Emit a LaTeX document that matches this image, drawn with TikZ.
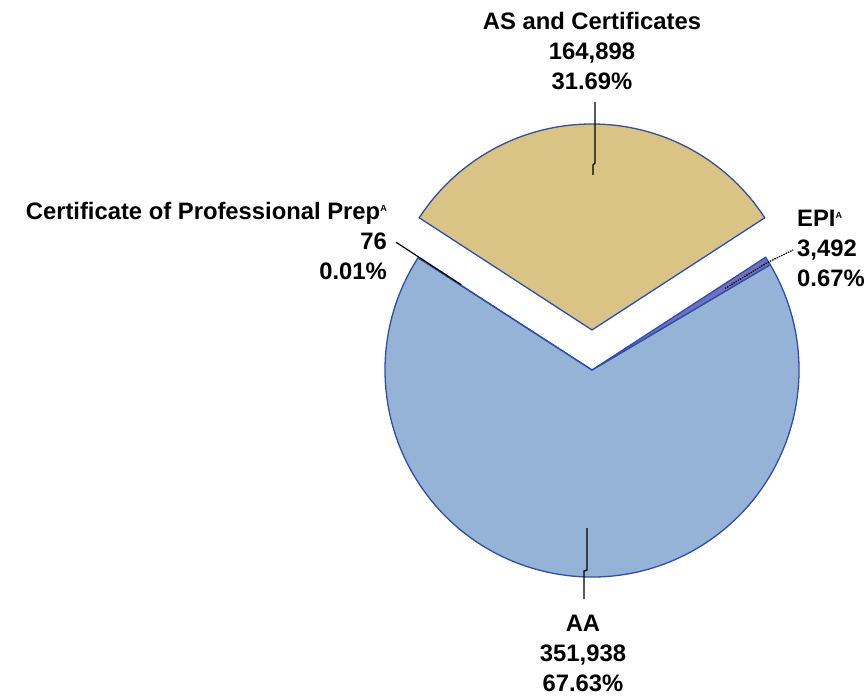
\documentclass[tikz,border=0pt]{standalone}
\usepackage{fontspec}
\setmainfont{Liberation Sans}
\definecolor{aablue}{RGB}{149,179,215}
\definecolor{astan}{RGB}{217,196,134}
\definecolor{rimblue}{RGB}{46,78,168}
\definecolor{epiviolet}{RGB}{112,112,192}
\newcommand{\supA}{{\fontsize{9}{9}\selectfont\raisebox{8pt}{A}}}
\begin{document}
\begin{tikzpicture}[x=1pt,y=1pt,
    wedge/.style={draw=rimblue,line width=1.3pt,line join=round},
    leader/.style={black,line width=1.4pt}]
  \useasboundingbox (-592,-328) rectangle (274,370);
  % main pie, centre at (0,0)
  \filldraw[wedge,fill=aablue] (0,0) -- (30.59:207) arc[start angle=30.59,end angle=-212.88,radius=207] -- cycle;
  \filldraw[wedge,fill=epiviolet] (0,0) -- (33:207) arc[start angle=33,end angle=30.59,radius=207] -- cycle;
  \filldraw[wedge,fill=aablue] (0,0) -- (147.16:207) arc[start angle=147.16,end angle=147.12,radius=207] -- cycle;
  % exploded slice
  \filldraw[wedge,fill=astan,shift={(0,40)}] (0,0) -- (33:206) arc[start angle=33,end angle=147,radius=206] -- cycle;
  \begin{scope}[every node/.style={font=\fontsize{23.8}{30}\selectfont\bfseries,inner sep=0pt}]
    \node[align=center]            (as)  at (0,319)    {AS and Certificates\\164,898\\31.69\%};
    \node[align=right,anchor=east] (cpp) at (-205,129) {Certificate of Professional Prep\supA\hspace{4pt}\\76\\0.01\%};
    \node[align=left,anchor=west]  (epi) at (205,122)  {EPI\supA\\3,492\\0.67\%};
    \node[align=center]            (aa)  at (-9,-283)  {AA\\351,938\\67.63\%};
  \end{scope}
  \coordinate (asTop)  at (3,268);
  \coordinate (asIn)   at (1,195);
  \coordinate (aaIn)   at (-5,-158);
  \coordinate (aaOut)  at (-8,-229);
  \coordinate (epiIn)  at (31.5:156);
  \coordinate (epiRim) at (31.5:205);
  \coordinate (epiOut) at (201,120);
  \coordinate (cppOut) at (146.9:234);
  \coordinate (cppIn)  at (146.9:156);
  \draw[leader] (asTop) -- ++(0,-61) -- ++(-2,-2) -- (asIn);
  \draw[leader] (aaIn) -- ++(0,-42) -- ++(-3,-1) -- (aaOut);
  \draw[leader,line width=1.2pt,dash pattern=on 1.5pt off 1pt] (epiIn) -- (epiRim) -- (epiOut);
  \draw[leader,line width=1.2pt] (cppOut) -- (cppIn);
\end{tikzpicture}
\end{document}
